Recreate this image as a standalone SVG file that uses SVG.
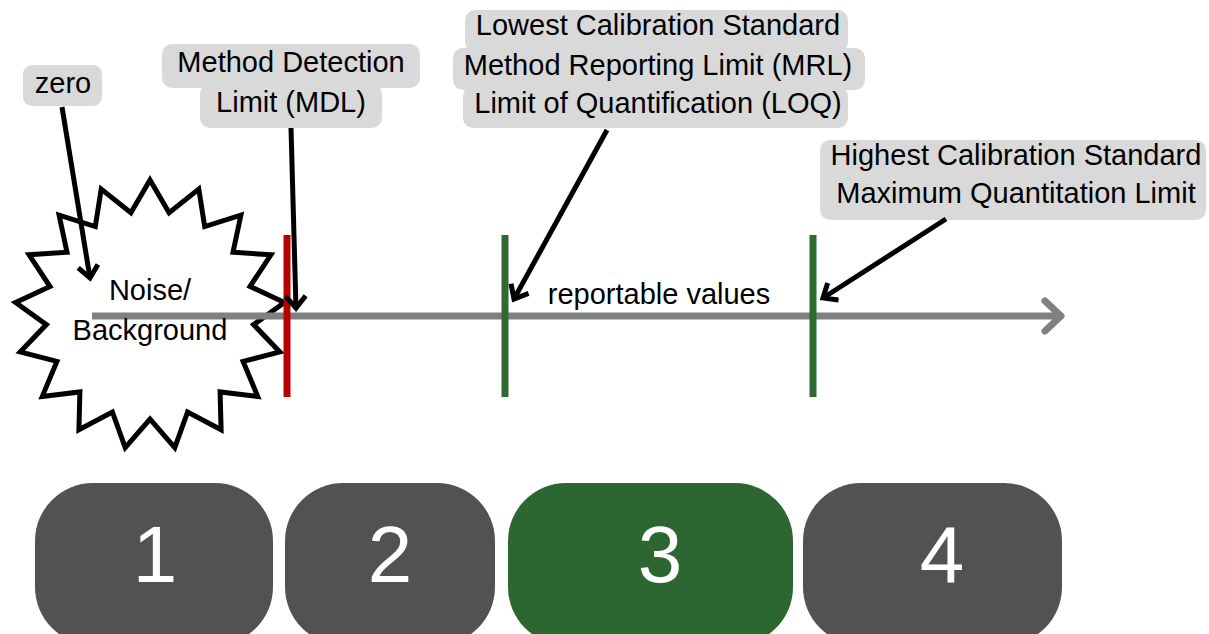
<svg xmlns="http://www.w3.org/2000/svg" width="1209" height="634" viewBox="0 0 1209 634">
<style>
  text { font-family: "Liberation Sans", Arial, sans-serif; }
  .lbl { font-size: 29px; fill: #000; text-anchor: middle; }
  .hl { fill: #d9d9d9; }
  .num { font-size: 80px; fill: #fff; text-anchor: middle; }
  .conn { stroke: #000; stroke-width: 5; fill: none; marker-end: url(#ah); }
  .tick { stroke-width: 7; }
</style>
<defs>
  <marker id="ah" markerUnits="userSpaceOnUse" viewBox="-20 -15 26 30" markerWidth="26" markerHeight="30" refX="0" refY="0" orient="auto" overflow="visible">
    <path d="M-12,-10 L0,0 L-12,10" fill="none" stroke="#000" stroke-width="5"/>
  </marker>
</defs>
<rect width="1209" height="634" fill="#fff"/>

<g id="noise">
  <polygon points="150,180 169.1,212.8 198.8,189.1 204.7,226.6 240.9,215.2 233,252.3 270.9,254.8 250,286.5 284.4,302.5 253.6,324.6 279.8,351.9 243.1,361.4 257.7,396.4 220.1,391.9 221.1,429.8 187.6,412 174.8,447.7 150,419 125.2,447.7 112.4,412 78.9,429.8 79.9,391.9 42.3,396.4 56.9,361.4 20.2,351.9 46.4,324.6 15.6,302.5 50,286.5 29.1,254.8 67,252.3 59.1,215.2 95.3,226.6 101.2,189.1 130.9,212.8" fill="#fff" stroke="#000" stroke-width="5" stroke-linejoin="miter"/>
</g>

<g id="axis">
  <line x1="92" y1="316" x2="1060" y2="316" stroke="#808080" stroke-width="7"/>
  <polyline points="1045,301 1061,316 1045,331" fill="none" stroke="#808080" stroke-width="7" stroke-linecap="round" stroke-linejoin="round"/>
</g>

<g id="noise-label">
  <text class="lbl" x="150" y="300">Noise/</text>
  <text class="lbl" x="150" y="340">Background</text>
</g>

<g id="mdl-tick"><line class="tick" x1="287" y1="235" x2="287" y2="397" stroke="#b80000"/></g>
<g id="lcs-tick"><line class="tick" x1="505" y1="235" x2="505" y2="397" stroke="#2e6b30"/></g>
<g id="hcs-tick"><line class="tick" x1="813" y1="235" x2="813" y2="397" stroke="#2e6b30"/></g>

<g id="reportable"><text class="lbl" x="659" y="304">reportable values</text></g>

<g id="zero">
  <rect class="hl" x="23" y="65" width="79" height="41" rx="9"/>
  <text class="lbl" x="63" y="93">zero</text>
</g>

<g id="mdl">
  <rect class="hl" x="162" y="44" width="258" height="44" rx="10"/>
  <rect class="hl" x="200" y="84" width="182" height="44" rx="10"/>
  <text class="lbl" x="291" y="72">Method Detection</text>
  <text class="lbl" x="291" y="112">Limit (MDL)</text>
</g>

<g id="lcs">
  <rect class="hl" x="465" y="10" width="383" height="42" rx="10"/>
  <rect class="hl" x="453" y="48" width="412" height="42" rx="10"/>
  <rect class="hl" x="463" y="86" width="385" height="42" rx="10"/>
  <text class="lbl" x="658" y="35">Lowest Calibration Standard</text>
  <text class="lbl" x="658" y="75">Method Reporting Limit (MRL)</text>
  <text class="lbl" x="658" y="113">Limit of Quantification (LOQ)</text>
</g>

<g id="hcs">
  <rect class="hl" x="820" y="140" width="386" height="80" rx="10"/>
  <text class="lbl" x="1016" y="165">Highest Calibration Standard</text>
  <text class="lbl" x="1016" y="203">Maximum Quantitation Limit</text>
</g>

<g id="connectors">
  <line class="conn" x1="62" y1="107" x2="90" y2="278"/>
  <line class="conn" x1="291" y1="128" x2="296" y2="308"/>
  <line class="conn" x1="607" y1="130" x2="514" y2="299"/>
  <line class="conn" x1="946" y1="219" x2="823" y2="298"/>
</g>

<g id="zone1">
  <rect x="35" y="483" width="238" height="162" rx="58" fill="#525154"/>
  <text class="num" x="155" y="582">1</text>
</g>
<g id="zone2">
  <rect x="285" y="483" width="210" height="162" rx="58" fill="#525154"/>
  <text class="num" x="390" y="582">2</text>
</g>
<g id="zone3">
  <rect x="508" y="483" width="285" height="162" rx="58" fill="#2c6630"/>
  <text class="num" x="660" y="582">3</text>
</g>
<g id="zone4">
  <rect x="803" y="483" width="259" height="162" rx="58" fill="#525154"/>
  <text class="num" x="942" y="582">4</text>
</g>
</svg>
